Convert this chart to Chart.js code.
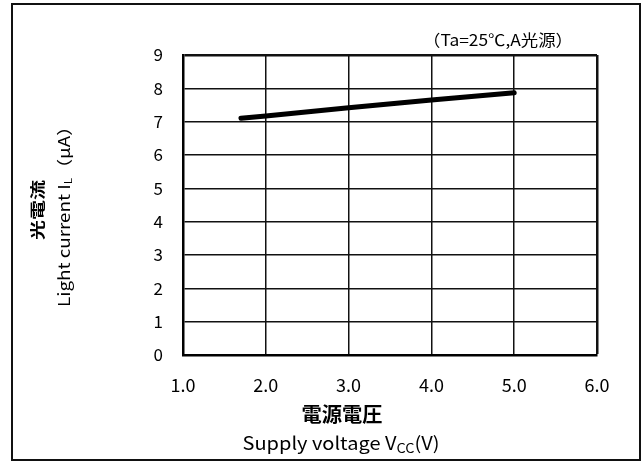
<!DOCTYPE html>
<html>
<head>
<meta charset="utf-8">
<script src="https://cdn.jsdelivr.net/npm/chart.js@4.4.0/dist/chart.umd.min.js"></script>
<style>
  body { margin: 0; background: #fff; }
  canvas { display: block; }
</style>
</head>
<body>
<canvas id="myChart" width="641" height="462"></canvas>
<script>
// Supply voltage Vcc (V) vs light current IL (uA), Ta=25C, A light source
const voltage = [1.7, 2.0, 3.0, 4.0, 5.0];
const lightCurrent = [7.1, 7.17, 7.42, 7.65, 7.87];
const xTicks = [1.0, 2.0, 3.0, 4.0, 5.0, 6.0];
const yTicks = [0, 1, 2, 3, 4, 5, 6, 7, 8, 9];

const FONT = '"Noto Sans CJK JP", "Noto Sans", sans-serif';

// draws a row of text pieces, stretched along the baseline to a given length
function drawFitted(ctx, pieces, cx, cy, length, angle) {
    ctx.save();
    ctx.translate(cx, cy);
    ctx.rotate(angle);
    let natural = 0;
    pieces.forEach(p => {
        ctx.font = p.font;
        p.w = ctx.measureText(p.text).width;
        natural += p.w;
    });
    ctx.scale(length / natural, 1);
    ctx.textBaseline = 'middle';
    ctx.textAlign = 'left';
    ctx.fillStyle = '#000';
    let x = -natural / 2;
    pieces.forEach(p => {
        ctx.font = p.font;
        ctx.fillText(p.text, x, p.dy || 0);
        x += p.w;
    });
    ctx.restore();
}

const titlesPlugin = {
    id: 'titles',
    beforeDraw(chart) {
        const ctx = chart.ctx;
        ctx.save();
        ctx.strokeStyle = '#111';
        ctx.lineWidth = 2;
        ctx.strokeRect(12, 4, 628, 456);
        ctx.restore();
    },
    afterDraw(chart) {
        const ctx = chart.ctx;
        // y axis title
        drawFitted(ctx, [{text: '光電流', font: 'bold 15px ' + FONT}], 37, 210, 60, -Math.PI / 2);
        drawFitted(ctx, [
            {text: 'Light current I', font: '16px ' + FONT},
            {text: 'L', font: '10px ' + FONT, dy: 4},
            {text: '（μA）', font: '16px ' + FONT},
        ], 64, 212, 190, -Math.PI / 2);
        // x axis title
        drawFitted(ctx, [{text: '電源電圧', font: 'bold 20px ' + FONT}], 342, 414, 81, 0);
        drawFitted(ctx, [
            {text: 'Supply voltage V', font: '18px ' + FONT},
            {text: 'CC', font: '13px ' + FONT, dy: 5},
            {text: '(V)', font: '18px ' + FONT},
        ], 341, 443, 197, 0);
        // condition note
        drawFitted(ctx, [{text: '（Ta=25℃,A光源）', font: '16px ' + FONT}], 498, 40, 150, 0);
    },
};

const data = {
    datasets: [{
        data: voltage.map((v, i) => ({x: v, y: lightCurrent[i]})),
        showLine: true,
        borderColor: '#000',
        borderWidth: 5,
        borderCapStyle: 'round',
        pointRadius: 0,
        fill: false,
    }],
};

const config = {
    type: 'scatter',
    data: data,
    options: {
        responsive: false,
        animation: false,
        layout: {
            padding: {left: 0, right: 44, top: 55, bottom: 0},
        },
        plugins: {
            legend: {display: false},
            tooltip: {enabled: false},
        },
        scales: {
            x: {
                type: 'linear',
                min: 1,
                max: 6,
                afterBuildTicks: (scale) => {
                    scale.ticks = xTicks.map(v => ({value: v}));
                },
                afterFit: (scale) => {
                    scale.height = 107;
                },
                grid: {
                    color: '#111',
                    lineWidth: (c) => (c.tick && c.tick.value === 6 ? 2.5 : 1.5),
                    drawTicks: false,
                },
                border: {color: '#000', width: 2.5},
                ticks: {
                    color: '#000',
                    padding: 19,
                    font: {family: FONT, size: 18},
                    callback: (v) => Number(v).toFixed(1),
                },
            },
            y: {
                min: 0,
                max: 9,
                afterBuildTicks: (scale) => {
                    scale.ticks = yTicks.map(v => ({value: v}));
                },
                afterFit: (scale) => {
                    scale.width = 183;
                },
                grid: {
                    color: '#111',
                    lineWidth: (c) => (c.tick && c.tick.value === 9 ? 2.5 : 1.5),
                    drawTicks: false,
                },
                border: {color: '#000', width: 2.5},
                ticks: {
                    color: '#000',
                    padding: 20,
                    font: {family: FONT, size: 17},
                },
            },
        },
    },
    plugins: [titlesPlugin],
};

const ctx = document.getElementById('myChart').getContext('2d');
const myChart = new Chart(ctx, config);
</script>
</body>
</html>
